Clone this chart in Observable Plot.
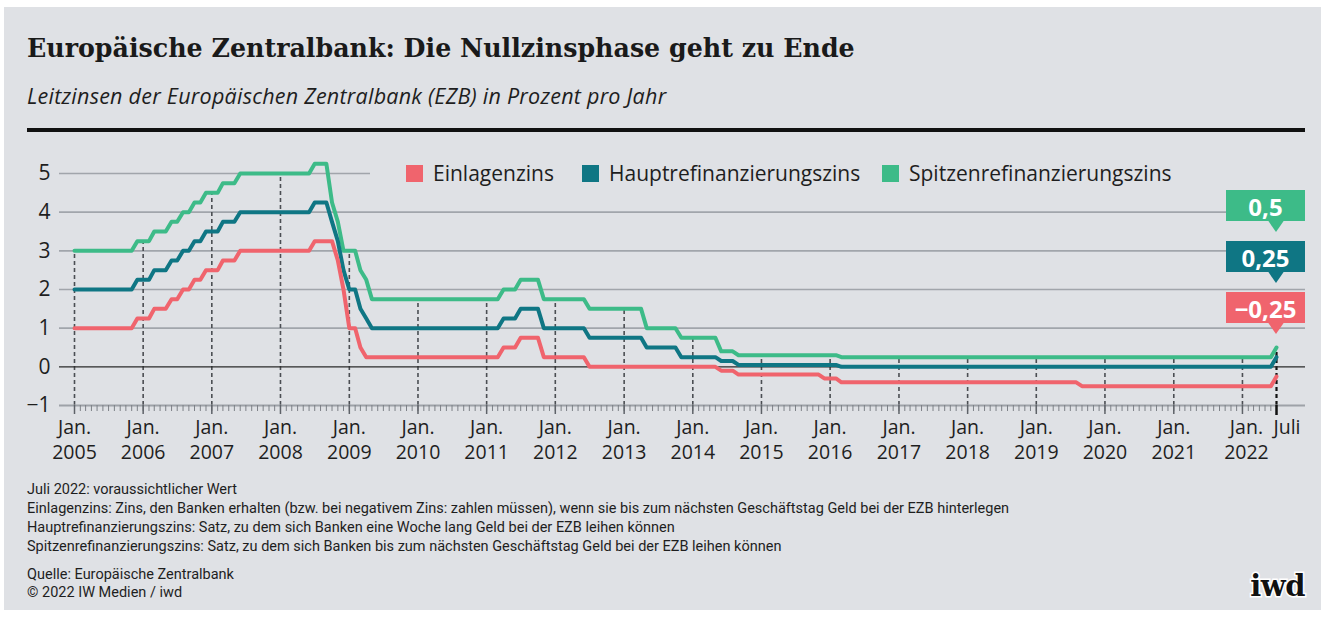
<!DOCTYPE html>
<html><head><meta charset="utf-8">
<script src="https://cdn.jsdelivr.net/npm/d3@7"></script>
<script src="https://cdn.jsdelivr.net/npm/@observablehq/plot@0.6"></script>
<style>
body{margin:0;background:#fff;width:1326px;height:617px;overflow:hidden;position:relative;font-family:"Open Sans",sans-serif;color:#1e1e1e}
#panel{position:absolute;left:4px;top:7px;width:1317px;height:603px;background:#dfe1e5}
#chrome{position:absolute;left:0;top:0}
#plot{position:absolute;left:0;top:140px}
.leg{position:absolute;top:162px;display:flex;align-items:center;font-size:21px;line-height:22px;color:#1e1e1e;white-space:nowrap}
.sw{display:inline-block;width:17px;height:17px;margin-right:10px}
</style></head>
<body>
<div id="panel"></div>
<svg id="chrome" width="1326" height="617">
  <text x="27" y="57" font-family="DejaVu Serif" font-weight="bold" font-size="25.3" fill="#1a1a1a">Europäische Zentralbank: Die Nullzinsphase geht zu Ende</text>
  <text x="27" y="104" font-family="Open Sans" font-style="italic" font-size="21.5" letter-spacing="0.25" fill="#1e1e1e">Leitzinsen der Europäischen Zentralbank (EZB) in Prozent pro Jahr</text>
  <rect x="27" y="128" width="1278" height="4" fill="#111"></rect>
  <g font-family="Roboto" font-size="14.5" fill="#1e1e1e">
    <text x="27" y="494">Juli 2022: voraussichtlicher Wert</text>
    <text x="27" y="513">Einlagenzins: Zins, den Banken erhalten (bzw. bei negativem Zins: zahlen müssen), wenn sie bis zum nächsten Geschäftstag Geld bei der EZB hinterlegen</text>
    <text x="27" y="532">Hauptrefinanzierungszins: Satz, zu dem sich Banken eine Woche lang Geld bei der EZB leihen können</text>
    <text x="27" y="551">Spitzenrefinanzierungszins: Satz, zu dem sich Banken bis zum nächsten Geschäftstag Geld bei der EZB leihen können</text>
    <text x="27" y="579">Quelle: Europäische Zentralbank</text>
    <text x="27" y="597">© 2022 IW Medien / iwd</text>
  </g>
  <text x="1305" y="596" text-anchor="end" font-family="DejaVu Serif" font-weight="bold" font-size="29" fill="#111" stroke="#fff" stroke-width="3" paint-order="stroke" letter-spacing="-0.5">iwd</text>
</svg>
<div id="plot"></div>
<div id="legend"></div>
<script>
// ---- data (month of change, value from that month on) ----
const seriesNames = ["Einlagenzins", "Hauptrefinanzierungszins", "Spitzenrefinanzierungszins"];

const einlagenMonate = ["2005-01","2005-12","2006-03","2006-06","2006-08","2006-10","2006-12","2007-03","2007-06","2008-07","2008-11","2008-12","2009-01","2009-03","2009-04","2011-04","2011-07","2011-11","2012-07","2014-06","2014-09","2015-12","2016-03","2019-09","2022-07"];
const einlagenWerte  = [1.00,1.25,1.50,1.75,2.00,2.25,2.50,2.75,3.00,3.25,2.75,2.00,1.00,0.50,0.25,0.50,0.75,0.25,0.00,-0.10,-0.20,-0.30,-0.40,-0.50,-0.25];

const hauptMonate = ["2005-01","2005-12","2006-03","2006-06","2006-08","2006-10","2006-12","2007-03","2007-06","2008-07","2008-10","2008-11","2008-12","2009-01","2009-03","2009-04","2009-05","2011-04","2011-07","2011-11","2012-07","2013-05","2013-11","2014-06","2014-09","2016-03","2022-07"];
const hauptWerte  = [2.00,2.25,2.50,2.75,3.00,3.25,3.50,3.75,4.00,4.25,3.75,3.25,2.50,2.00,1.50,1.25,1.00,1.25,1.50,1.00,0.75,0.50,0.25,0.15,0.05,0.00,0.25];

const spitzenMonate = ["2005-01","2005-12","2006-03","2006-06","2006-08","2006-10","2006-12","2007-03","2007-06","2008-07","2008-10","2008-11","2008-12","2009-03","2009-04","2009-05","2011-04","2011-07","2011-11","2012-07","2013-05","2013-11","2014-06","2014-09","2016-03","2022-07"];
const spitzenWerte  = [3.00,3.25,3.50,3.75,4.00,4.25,4.50,4.75,5.00,5.25,4.25,3.75,3.00,2.50,2.25,1.75,2.00,2.25,1.75,1.50,1.00,0.75,0.40,0.30,0.25,0.50];

const yTicks = [-1, 0, 1, 2, 3, 4, 5];
const gridValues = [1, 2, 3, 4];
const tickYears = ["2005","2006","2007","2008","2009","2010","2011","2012","2013","2014","2015","2016","2017","2018","2019","2020","2021","2022"];
const tickMonthLabel = "Jan.";
const endMonth = "2022-07";
const endLabel = "Juli";

// ---- styles ----
const colors = {"Einlagenzins": "#f0646d", "Hauptrefinanzierungszins": "#0f7684", "Spitzenrefinanzierungszins": "#3dbb88"};

const parse = d3.utcParse("%Y-%m");
function steps(months, values, name) {
  const pts = [];
  months.forEach((m, i) => {
    const t = parse(m);
    if (i > 0) pts.push({date: d3.utcMonth.offset(t, -1), value: values[i - 1], series: name});
    pts.push({date: t, value: values[i], series: name});
  });
  return pts;
}
function valueAt(months, values, t) {
  let v = values[0];
  months.forEach((m, i) => { if (parse(m) <= t) v = values[i]; });
  return v;
}
const ein = steps(einlagenMonate, einlagenWerte, seriesNames[0]);
const hau = steps(hauptMonate, hauptWerte, seriesNames[1]);
const spi = steps(spitzenMonate, spitzenWerte, seriesNames[2]);

const start = parse(tickYears[0] + "-01");
const end = parse(endMonth);
const janDates = tickYears.map(y => parse(y + "-01"));
const monthDates = d3.utcMonths(start, d3.utcMonth.offset(end, 1));
const dashData = janDates.map(d => ({date: d, top: valueAt(spitzenMonate, spitzenWerte, d)}));
const endTop = valueAt(spitzenMonate, spitzenWerte, end);
const labelData = janDates.map((d, i) => ({date: d, year: tickYears[i]}));
const mainLabels = labelData.slice(0, -1);
const lastLabel = labelData.slice(-1);

const fmt = v => String(v).replace(".", ",").replace("-", "\u2212");
const boxes = [
  {name: seriesNames[2], value: spitzenWerte.at(-1)},
  {name: seriesNames[1], value: hauptWerte.at(-1)},
  {name: seriesNames[0], value: einlagenWerte.at(-1)}
];

const W = 1326, H = 330, ML = 74, MR = 50, MT = 33, MB = 65;
const gridInset = {insetLeft: -15, insetRight: -29};
const lbl = {frameAnchor: "bottom", lineAnchor: "middle", fontSize: 19.5, fill: "#1e1e1e"};

function boxMark(index, scales) {
  const g = d3.create("svg:g");
  const x = scales.x(end);
  const tops = [50, 101, 152];
  boxes.forEach((b, i) => {
    const top = tops[i], h = 31, left = x - 50, right = x + 29;
    g.append("rect").attr("x", left).attr("y", top).attr("width", right - left).attr("height", h).attr("fill", colors[b.name]);
    g.append("path").attr("d", `M${x - 8},${top + h - 0.5}L${x + 8},${top + h - 0.5}L${x},${top + h + 11}Z`).attr("fill", colors[b.name]);
    g.append("text").attr("x", (left + right) / 2).attr("y", top + h / 2 + 1).attr("text-anchor", "middle")
      .attr("dominant-baseline", "central").attr("fill", "#fff").attr("font-weight", "bold")
      .attr("font-size", 24).attr("font-family", "Open Sans").text(fmt(b.value));
  });
  return g.node();
}

const chart = Plot.plot({
  width: W, height: H, marginLeft: ML, marginRight: MR, marginTop: MT, marginBottom: MB,
  x: {type: "utc", domain: [start, end]},
  y: {domain: [-1, 5]},
  style: {background: "transparent", fontFamily: "Open Sans", fontSize: "20px", color: "#1e1e1e", overflow: "visible"},
  marks: [
    Plot.ruleY(gridValues, {stroke: "#a1a5ab", strokeWidth: 1.6, ...gridInset}),
    Plot.ruleY([5], {stroke: "#a1a5ab", strokeWidth: 1.6, insetLeft: -15, insetRight: 906}),
    Plot.ruleX(dashData, {x: "date", y1: -1, y2: "top", stroke: "#4b4e53", strokeWidth: 1.6, strokeDasharray: "4,3"}),
    Plot.ruleX([end], {x: d => d, y1: -1, y2: endTop, stroke: "#111", strokeWidth: 2.2, strokeDasharray: "4,3"}),
    Plot.ruleY([0], {stroke: "#2a2a2a", strokeWidth: 1.3, ...gridInset}),
    Plot.ruleY([-1], {stroke: "#9ea2a8", strokeWidth: 2, ...gridInset}),
    Plot.axisX({ticks: monthDates, tickSize: 6, tickFormat: () => "", stroke: "#7d8187", strokeWidth: 1}),
    Plot.axisX({ticks: janDates, tickSize: 9, tickFormat: () => "", stroke: "#5e6268", strokeWidth: 1.5}),
    Plot.axisX({ticks: [end], tickSize: 10, tickFormat: () => "", stroke: "#111", strokeWidth: 2.5}),
    Plot.text(mainLabels, {x: "date", text: () => tickMonthLabel, dy: 22, ...lbl}),
    Plot.text(mainLabels, {x: "date", text: "year", dy: 47, ...lbl}),
    Plot.text(lastLabel, {x: "date", text: () => tickMonthLabel, dy: 22, dx: 4, ...lbl}),
    Plot.text(lastLabel, {x: "date", text: "year", dy: 47, dx: 4, ...lbl}),
    Plot.text([end], {x: d => d, text: [endLabel], dy: 22, dx: -3, textAnchor: "start", ...lbl}),
    Plot.axisY({ticks: yTicks, tickSize: 0, tickPadding: 24, fontSize: 21, label: null, fill: "#1e1e1e", tickFormat: fmt}),
    Plot.line(spi, {x: "date", y: "value", stroke: colors[seriesNames[2]], strokeWidth: 4, strokeLinejoin: "round"}),
    Plot.line(hau, {x: "date", y: "value", stroke: colors[seriesNames[1]], strokeWidth: 4, strokeLinejoin: "round"}),
    Plot.line(ein, {x: "date", y: "value", stroke: colors[seriesNames[0]], strokeWidth: 4, strokeLinejoin: "round"}),
    boxMark
  ]
});
document.getElementById("plot").appendChild(chart);

// legend
const legX = [406, 582, 882];
const legend = document.getElementById("legend");
seriesNames.forEach((n, i) => {
  const d = document.createElement("div");
  d.className = "leg";
  d.style.left = legX[i] + "px";
  d.innerHTML = `<span class="sw" style="background:${colors[n]}"></span>${n}`;
  legend.appendChild(d);
});
</script>
</body></html>
